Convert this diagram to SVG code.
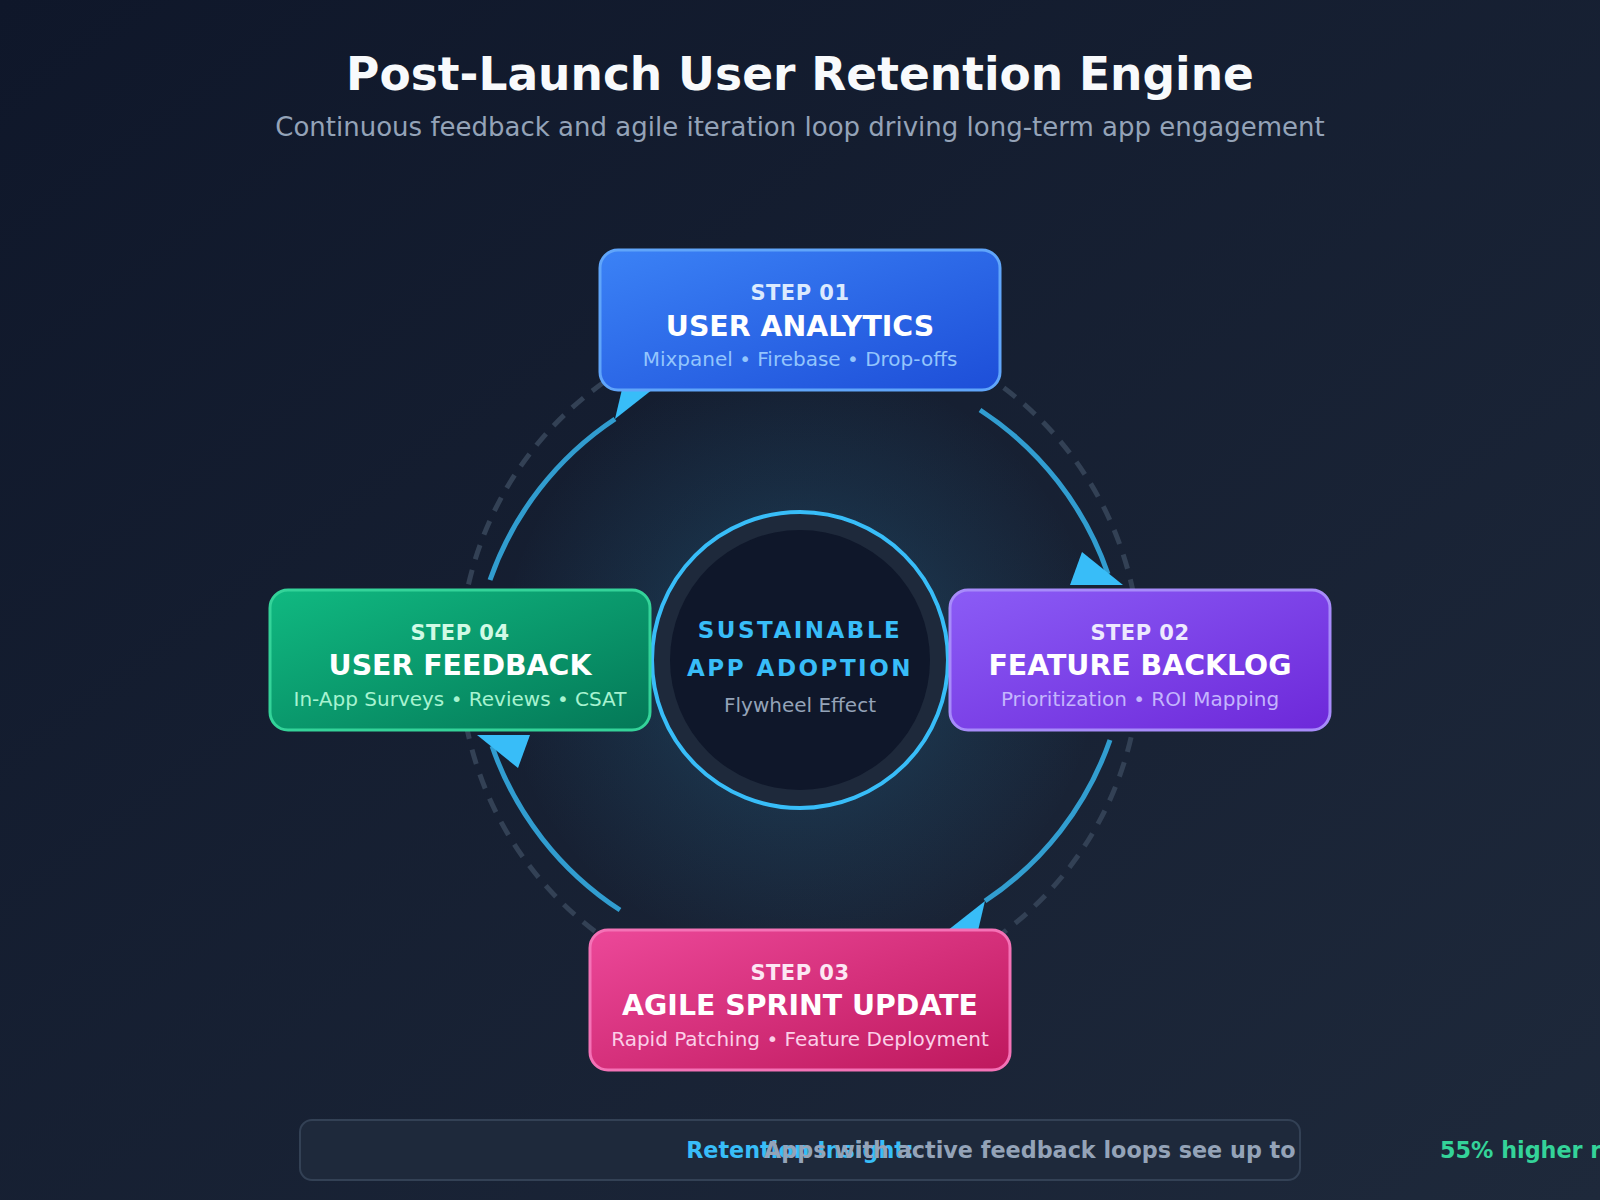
<svg xmlns="http://www.w3.org/2000/svg" width="1600" height="1200" viewBox="0 0 1600 1200">
  <defs>
    <linearGradient id="bg" x1="0" y1="0" x2="1" y2="1">
      <stop offset="0" stop-color="#0f172a"/>
      <stop offset="1" stop-color="#1e293b"/>
    </linearGradient>
    <radialGradient id="glow" cx="800" cy="660" r="300" gradientUnits="userSpaceOnUse">
      <stop offset="0" stop-color="#38bdf8" stop-opacity="0.22"/>
      <stop offset="0.6" stop-color="#38bdf8" stop-opacity="0.08"/>
      <stop offset="1" stop-color="#38bdf8" stop-opacity="0"/>
    </radialGradient>
    <linearGradient id="gBlue" x1="0" y1="0" x2="1" y2="1">
      <stop offset="0" stop-color="#3b82f6"/>
      <stop offset="1" stop-color="#1d4ed8"/>
    </linearGradient>
    <linearGradient id="gPurple" x1="0" y1="0" x2="1" y2="1">
      <stop offset="0" stop-color="#8b5cf6"/>
      <stop offset="1" stop-color="#6d28d9"/>
    </linearGradient>
    <linearGradient id="gPink" x1="0" y1="0" x2="1" y2="1">
      <stop offset="0" stop-color="#ec4899"/>
      <stop offset="1" stop-color="#be185d"/>
    </linearGradient>
    <linearGradient id="gGreen" x1="0" y1="0" x2="1" y2="1">
      <stop offset="0" stop-color="#10b981"/>
      <stop offset="1" stop-color="#047857"/>
    </linearGradient>
    <style>
      text { font-family: "DejaVu Sans", "Liberation Sans", sans-serif; text-anchor: middle; }
      .title { font-size: 45.5px; font-weight: bold; fill: #f8fafc; }
      .subtitle { font-size: 26px; fill: #94a3b8; }
      .box { stroke-width: 3; }
      .step { font-size: 21px; font-weight: bold; letter-spacing: 0.5px; }
      .name { font-size: 28.4px; font-weight: bold; fill: #ffffff; }
      .desc { font-size: 20px; }
      .arc { fill: none; stroke: #38bdf8; stroke-opacity: 0.8; stroke-width: 5; }
      .head { fill: #38bdf8; }
      .orbit { fill: none; stroke: #334155; stroke-width: 5; stroke-dasharray: 15 11; }
      .core { font-size: 23px; font-weight: bold; fill: #38bdf8; letter-spacing: 2.5px; }
      .note { font-size: 22.3px; font-weight: bold; }
    </style>
  </defs>

  <rect width="1600" height="1200" fill="url(#bg)"/>
  <circle cx="800" cy="660" r="300" fill="url(#glow)"/>

  <text class="title" x="800" y="90">Post-Launch User Retention Engine</text>
  <text class="subtitle" x="800" y="136">Continuous feedback and agile iteration loop driving long-term app engagement</text>

  <circle class="orbit" cx="800" cy="660" r="340"/>

  <g id="connectors">
    <path class="arc" d="M 980 410 A 320 320 0 0 1 1108 574"/>
    <path class="arc" d="M 1110 740 A 320 320 0 0 1 985 901"/>
    <path class="arc" d="M 620 910 A 320 320 0 0 1 492 746"/>
    <path class="arc" d="M 490 580 A 320 320 0 0 1 615 419"/>
    <polygon class="head" points="1082,552 1070,585 1123,585"/>
    <polygon class="head" points="985,901 943.4,933.8 972.9,952.6"/>
    <polygon class="head" points="518,768 530,735 477,735"/>
    <polygon class="head" points="615,419 656.6,386.2 627.1,367.4"/>
  </g>

  <g id="hub">
    <circle cx="800" cy="660" r="148" fill="#1e293b" stroke="#38bdf8" stroke-width="4"/>
    <circle cx="800" cy="660" r="130" fill="#0f172a"/>
    <text class="core" x="800" y="638">SUSTAINABLE</text>
    <text class="core" x="800" y="676">APP ADOPTION</text>
    <text x="800" y="712" font-size="20" fill="#94a3b8">Flywheel Effect</text>
  </g>

  <g id="step1">
    <rect class="box" x="600" y="250" width="400" height="140" rx="18" fill="url(#gBlue)" stroke="#60a5fa"/>
    <text class="step" x="800" y="300" fill="#dbeafe">STEP 01</text>
    <text class="name" x="800" y="336">USER ANALYTICS</text>
    <text class="desc" x="800" y="366" fill="#93c5fd">Mixpanel • Firebase • Drop-offs</text>
  </g>

  <g id="step2">
    <rect class="box" x="950" y="590" width="380" height="140" rx="18" fill="url(#gPurple)" stroke="#a78bfa"/>
    <text class="step" x="1140" y="640" fill="#ede9fe">STEP 02</text>
    <text class="name" x="1140" y="675">FEATURE BACKLOG</text>
    <text class="desc" x="1140" y="706" fill="#c4b5fd">Prioritization • ROI Mapping</text>
  </g>

  <g id="step3">
    <rect class="box" x="590" y="930" width="420" height="140" rx="18" fill="url(#gPink)" stroke="#f472b6"/>
    <text class="step" x="800" y="980" fill="#fce7f3">STEP 03</text>
    <text class="name" x="800" y="1015">AGILE SPRINT UPDATE</text>
    <text class="desc" x="800" y="1046" fill="#fbcfe8">Rapid Patching • Feature Deployment</text>
  </g>

  <g id="step4">
    <rect class="box" x="270" y="590" width="380" height="140" rx="18" fill="url(#gGreen)" stroke="#34d399"/>
    <text class="step" x="460" y="640" fill="#d1fae5">STEP 04</text>
    <text class="name" x="460" y="675">USER FEEDBACK</text>
    <text class="desc" x="460" y="706" fill="#a7f3d0">In-App Surveys • Reviews • CSAT</text>
  </g>

  <g id="insight">
    <rect x="300" y="1120" width="1000" height="60" rx="12" fill="#1e293b" stroke="#334155" stroke-width="2"/>
    <text class="note" x="800" y="1158" fill="#38bdf8">Retention Insight:</text>
    <text class="note" x="764" y="1158" fill="#94a3b8" style="text-anchor:start">Apps with active feedback loops see up to</text>
    <text class="note" x="1440" y="1158" fill="#34d399" style="text-anchor:start">55% higher r</text>
  </g>
</svg>
